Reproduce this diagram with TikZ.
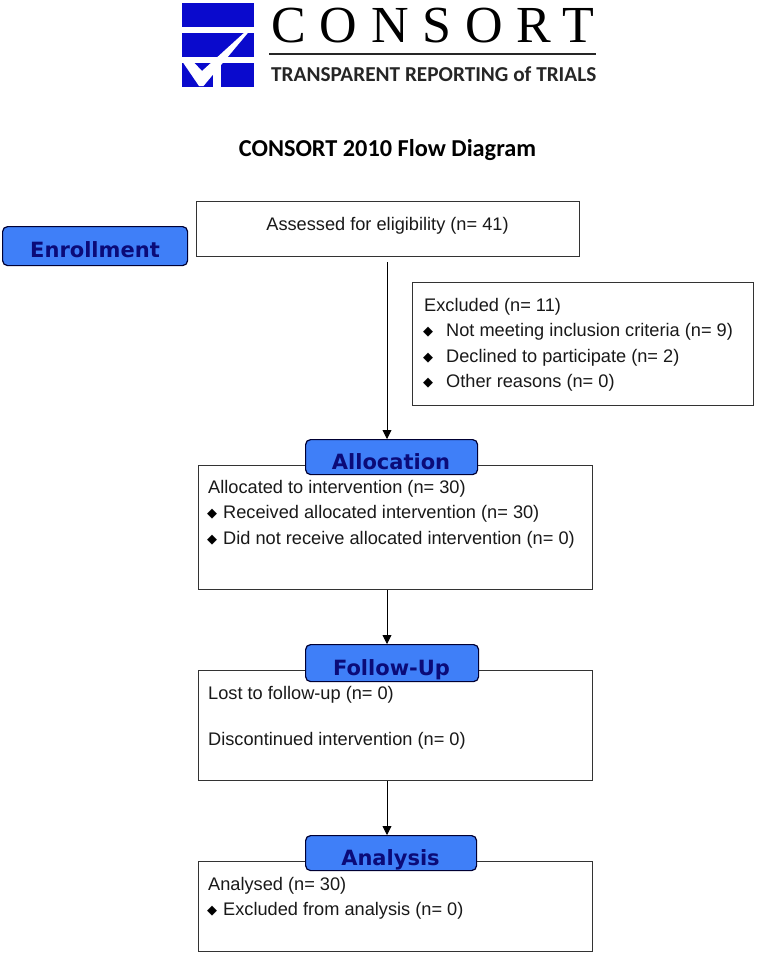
\documentclass[tikz,border=0pt]{standalone}
\usepackage{fontspec}
\setmainfont{Liberation Sans}
\newfontfamily\logoserif[LetterSpace=26.7]{Liberation Serif}
\newfontfamily\carl{Carlito}
\newfontfamily\dejav{DejaVu Sans}
\usetikzlibrary{arrows.meta}
\definecolor{logoblue}{HTML}{0A0ACD}
\definecolor{stagefill}{HTML}{3F7FF8}
\definecolor{stagetext}{HTML}{0B0B78}
\definecolor{boxline}{HTML}{333333}
\tikzset{
  x=1pt,y=-1pt,
  flowbox/.style={draw=boxline,line width=1.4pt,fill=white},
  stage/.style={draw=black!80!blue,line width=1.2pt,fill=stagefill,rounded corners=5pt},
  stagelabel/.style={anchor=base,inner sep=0pt,text=stagetext,font=\dejav\bfseries\fontsize{21}{21}\selectfont},
  body/.style={anchor=base west,inner sep=0pt,text=black!90,font=\fontsize{18.2}{20}\selectfont},
  bullet/.style={anchor=base west,inner sep=0pt,font=\dejav\fontsize{13}{14}\selectfont},
  arrowline/.style={draw=black,line width=0.9pt,-{Triangle[length=9pt,width=9pt]}},
  logorect/.style={fill=logoblue,draw=none},
}
\begin{document}
\begin{tikzpicture}
\useasboundingbox (0,0) rectangle (758,956);
% logo
\fill[logorect] (182,3) rectangle (253.5,27);
\fill[logorect] (182,33) rectangle (253.5,57);
\fill[logorect] (182,63) rectangle (213,87);
\fill[logorect] (221,63) rectangle (253.5,87);
\fill[white] (183,62.5) -- (194,62.5) -- (202,71) -- (246,31) -- (252,28) -- (203.5,86) -- (199,86) -- cycle;
\node[anchor=base west,inner sep=0pt,font=\logoserif\fontsize{52}{52}\selectfont] (logoname) at (271,42.5) {CONSORT};
\draw[line width=1.3pt,black!85] (269,54) -- (596,54);
\node[anchor=base west,inner sep=0pt,font=\carl\bfseries\fontsize{21.25}{22}\selectfont,text=black!85] (tag) at (271,81) {TRANSPARENT REPORTING of TRIALS};
\node[anchor=base,inner sep=0pt,font=\carl\bfseries\fontsize{24.3}{26}\selectfont] (title) at (387.5,156) {CONSORT 2010 Flow Diagram};
% boxes
\node[flowbox,minimum width=383pt,minimum height=55pt,inner sep=0pt,anchor=north west] (assessed) at (196,201) {};
\node[body,anchor=base] (assessedt) at (387.5,230) {Assessed for eligibility (n= 41)};
\node[flowbox,minimum width=341pt,minimum height=123pt,inner sep=0pt,anchor=north west] (excluded) at (412,282) {};
\node[body] (ex0) at (424,311) {Excluded (n= 11)};
\node[bullet] (exb1) at (423,335.5) {◆};
\node[body] (ex1) at (446,336.5) {Not meeting inclusion criteria (n= 9)};
\node[bullet] (exb2) at (423,361) {◆};
\node[body] (ex2) at (446,362) {Declined to participate (n= 2)};
\node[bullet] (exb3) at (423,386.5) {◆};
\node[body] (ex3) at (446,387.5) {Other reasons (n= 0)};
\node[flowbox,minimum width=394pt,minimum height=124pt,inner sep=0pt,anchor=north west] (alloc) at (198,465) {};
\node[body] (al0) at (208,493) {Allocated to intervention (n= 30)};
\node[bullet] (alb1) at (207,517.5) {◆};
\node[body] (al1) at (223,518.5) {Received allocated intervention (n= 30)};
\node[bullet] (alb2) at (207,543.5) {◆};
\node[body] (al2) at (223,544.5) {Did not receive allocated intervention (n= 0)};
\node[flowbox,minimum width=394pt,minimum height=110pt,inner sep=0pt,anchor=north west] (follow) at (198,670) {};
\node[body] (fo0) at (208,699) {Lost to follow-up (n= 0)};
\node[body] (fo1) at (208,745) {Discontinued intervention (n= 0)};
\node[flowbox,minimum width=394pt,minimum height=90pt,inner sep=0pt,anchor=north west] (analysis) at (198,861) {};
\node[body] (an0) at (208,890) {Analysed (n= 30)};
\node[bullet] (anb1) at (207,914) {◆};
\node[body] (an1) at (223,915) {Excluded from analysis (n= 0)};
% stage tabs
\node[stage,minimum width=185pt,minimum height=39pt,inner sep=0pt,anchor=north west] (senr) at (2,226) {};
\node[stagelabel] at (95,257) {Enrollment};
\node[stage,minimum width=172pt,minimum height=35pt,inner sep=0pt,anchor=north west] (sall) at (305,439) {};
\node[stagelabel] at (391,469) {Allocation};
\node[stage,minimum width=173pt,minimum height=37pt,inner sep=0pt,anchor=north west] (sfol) at (305,644) {};
\node[stagelabel] at (391.5,675) {Follow-Up};
\node[stage,minimum width=171pt,minimum height=35pt,inner sep=0pt,anchor=north west] (sana) at (305,835) {};
\node[stagelabel] at (390.5,865) {Analysis};
% connectors
\coordinate (axis) at (387,0);
\draw[arrowline,shorten <=5pt] (assessed.south -| axis) -- (sall.north -| axis);
\draw[arrowline] (alloc.south -| axis) -- (sfol.north -| axis);
\draw[arrowline] (follow.south -| axis) -- (sana.north -| axis);
\end{tikzpicture}
\end{document}
